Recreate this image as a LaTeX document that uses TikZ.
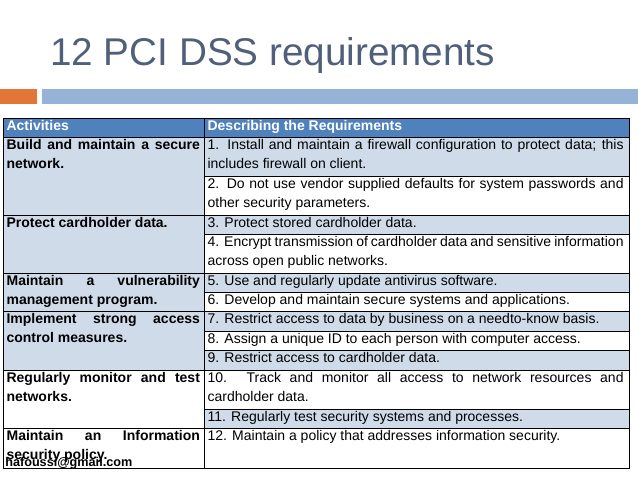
\documentclass[tikz,border=0pt]{standalone}
\usepackage{fontspec}
\setmainfont{Liberation Sans}
\newcommand\mynohyp{\hyphenpenalty10000 \exhyphenpenalty10000 }
\begin{document}
\begin{tikzpicture}[x=0.75pt,y=-0.75pt,
  cell/.style={anchor=north west,inner xsep=2.5pt,inner ysep=0pt,align=justify,font=\fontsize{10.5}{14.6}\selectfont\mynohyp},
  lcell/.style={cell,text width=145pt,font=\fontsize{10.5}{14.6}\selectfont\bfseries\mynohyp},
  rcell/.style={cell,text width=312pt},
  grid/.style={draw=black,line width=0.6pt}]
\definecolor{hdr}{RGB}{79,129,189}
\definecolor{lb}{RGB}{208,219,234}
\definecolor{ttl}{RGB}{80,96,122}
\definecolor{org}{RGB}{226,118,56}
\definecolor{bar}{RGB}{149,179,215}
\useasboundingbox (0,0) rectangle (638,479);
\node[anchor=base west,inner sep=0,text=ttl,font=\fontsize{29}{32}\selectfont] (title) at (50,65) {12 PCI DSS requirements};
\fill[org] (0,89) rectangle (37,104);
\fill[bar] (42,89) rectangle (638,104);
\def\X{3}\def\M{204}\def\R{629}
\fill[hdr] (\X,118) rectangle (\R,137);
\fill[lb] (\X,137) rectangle (\M,370);
\foreach \a/\b in {137/176,215/234,273/292,311/331,350/370,409/428}{\fill[lb] (\M,\a) rectangle (\R,\b);}
\draw[grid] (\X,118) rectangle (\R,468);
\draw[grid] (\M,118) -- (\M,468);
\foreach \y in {137,215,273,311,370,428}{\draw[grid] (\X,\y) -- (\R,\y);}
\foreach \y in {176,234,292,331,350,409}{\draw[grid] (\M,\y) -- (\R,\y);}
\node[lcell,text=white] (h1) at (\X,120) {Activities};
\node[lcell,text=white,text width=312pt] (h2) at (\M,120) {Describing the Requirements};
\node[lcell] (l1) at (\X,139) {Build and maintain a secure network.};
\node[lcell] (l2) at (\X,217) {Protect cardholder data.};
\node[lcell] (l3) at (\X,275) {Maintain a vulnerability management program.};
\node[lcell] (l4) at (\X,313) {Implement strong access control measures.};
\node[lcell] (l5) at (\X,372) {Regularly monitor and test networks.};
\node[lcell] (l6) at (\X,430) {Maintain an Information security policy.};
\node[rcell] (r1) at (\M,139) {1. Install and maintain a firewall configuration to protect data; this includes firewall on client.};
\node[rcell] (r2) at (\M,178) {2. Do not use vendor supplied defaults for system passwords and other security parameters.};
\node[rcell] (r3) at (\M,217) {3. Protect stored cardholder data.};
\node[rcell] (r4) at (\M,236) {4. Encrypt transmission of cardholder data and sensitive information across open public networks.};
\node[rcell] (r5) at (\M,275) {5. Use and regularly update antivirus software.};
\node[rcell] (r6) at (\M,294) {6. Develop and maintain secure systems and applications.};
\node[rcell] (r7) at (\M,313) {7. Restrict access to data by business on a needto-know basis.};
\node[rcell] (r8) at (\M,333) {8. Assign a unique ID to each person with computer access.};
\node[rcell] (r9) at (\M,352) {9. Restrict access to cardholder data.};
\node[rcell] (r10) at (\M,372) {10. Track and monitor all access to network resources and cardholder data.};
\node[rcell] (r11) at (\M,411) {11. Regularly test security systems and processes.};
\node[rcell] (r12) at (\M,430) {12. Maintain a policy that addresses information security.};
\node[anchor=base west,inner sep=0,font=\fontsize{9.5}{10}\selectfont\bfseries] (mail) at (5,466) {hafoussi@gmail.com};
\end{tikzpicture}
\end{document}
